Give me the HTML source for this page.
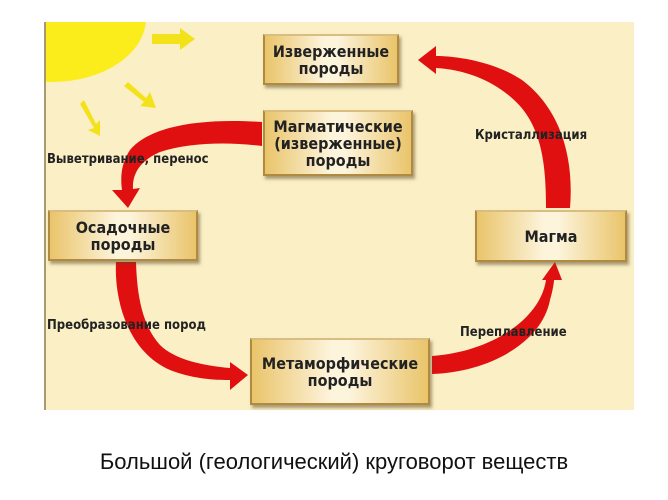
<!DOCTYPE html>
<html><head><meta charset="utf-8"><style>
body{margin:0;width:668px;height:500px;background:#fff;position:relative;overflow:hidden;font-family:"Liberation Sans","DejaVu Sans",sans-serif}
.panel{position:absolute;left:44px;top:22px;width:588px;height:388px;background:#fbefc6;border-left:2px solid #a89a70;overflow:hidden}
.box{position:absolute;box-sizing:border-box;border:2px solid #b08a40;border-top-color:#d8bc80;background:linear-gradient(90deg,#e9c46a 0%,#fdf4dc 45%,#fdf4dc 55%,#e9c46a 100%);box-shadow:2px 3px 3px rgba(90,70,30,.5);display:flex;align-items:center;justify-content:center;text-align:center;font-weight:bold;font-size:16px;line-height:17px;color:#222;font-family:"DejaVu Sans Condensed","DejaVu Sans",sans-serif;font-stretch:condensed}
.lbl{position:absolute;font-weight:bold;font-size:13px;color:#222;font-family:"DejaVu Sans Condensed","DejaVu Sans",sans-serif;white-space:nowrap}
.cap{position:absolute;left:0;width:668px;top:449px;text-align:center;font-size:22px;color:#111}
</style></head><body>
<div class="panel"></div>
<svg width="668" height="500" style="position:absolute;left:0;top:0">
<defs><clipPath id="c"><rect x="46" y="22" width="586" height="388"/></clipPath></defs>
<ellipse cx="52" cy="18" rx="94" ry="64" fill="#fbec1c" clip-path="url(#c)"/>
<g fill="#f3e21a">
<polygon points="152,34 180,34 180,28 195,39 180,50 180,44 152,44"/>
<polygon points="128,82 146,98 150,92 156,108 140,106 144,102 124,86"/>
<polygon points="84,100 96,124 100,120 100,136 88,130 94,128 80,104"/>
</g>
<g fill="#e01010">
<path d="M262,122 C200,118 150,126 130,150 C122,162 120,175 122,190 L112,190 L128,208 L140,188 L133,189 C132,172 142,160 160,152 C190,142 230,142 262,146 Z"/>
<path d="M116,262 C114,300 128,352 170,370 C195,380 220,380 230,380 L230,390 L248,375 L230,362 L230,368 C205,366 175,360 160,345 C142,325 137,295 136,262 Z"/>
<path d="M432,374 C490,372 542,342 550,300 C553,290 554,282 554,280 L562,280 L555,262 L542,280 L546,280 C540,320 490,352 432,356 Z"/>
<path d="M570,208 C574,160 562,110 522,80 C492,60 452,56 436,56 L436,46 L418,60 L436,74 L436,68 C470,70 500,84 520,106 C543,132 546,170 546,208 Z"/>
</g>
</svg>
<div class="box" style="left:263px;top:34px;width:136px;height:51px">Изверженные<br>породы</div>
<div class="box" style="left:263px;top:110px;width:150px;height:66px">Магматические<br>(изверженные)<br>породы</div>
<div class="box" style="left:48px;top:210px;width:150px;height:51px">Осадочные<br>породы</div>
<div class="box" style="left:475px;top:210px;width:152px;height:52px">Магма</div>
<div class="box" style="left:250px;top:338px;width:180px;height:67px">Метаморфические<br>породы</div>
<div class="lbl" style="left:47px;top:152px">Выветривание, перенос</div>
<div class="lbl" style="left:475px;top:128px">Кристаллизация</div>
<div class="lbl" style="left:47px;top:318px">Преобразование пород</div>
<div class="lbl" style="left:460px;top:325px">Переплавление</div>
<div class="cap">Большой (геологический) круговорот веществ</div>
</body></html>
